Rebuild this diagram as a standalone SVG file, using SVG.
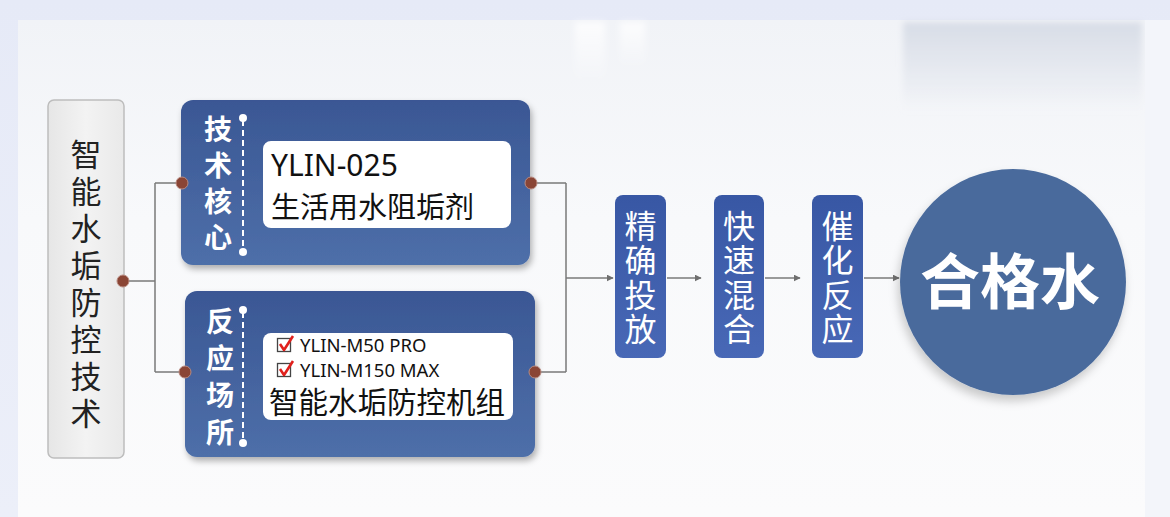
<svg xmlns="http://www.w3.org/2000/svg" width="1170" height="517" viewBox="0 0 1170 517">
<defs>
<linearGradient id="bgTop" x1="0" y1="0" x2="0" y2="1"><stop offset="0" stop-color="#e6eaf7"/><stop offset="1" stop-color="#eceff9"/></linearGradient>
<linearGradient id="panel" x1="0" y1="0" x2="0" y2="1"><stop offset="0" stop-color="#f1f3f7"/><stop offset="0.4" stop-color="#f8f9fb"/><stop offset="1" stop-color="#fbfbfc"/></linearGradient>
<linearGradient id="haze" x1="0" y1="0" x2="0" y2="1"><stop offset="0" stop-color="#d8dde7"/><stop offset="1" stop-color="#d8dde7" stop-opacity="0"/></linearGradient>
<linearGradient id="hazeW" x1="0" y1="0" x2="0" y2="1"><stop offset="0" stop-color="#ffffff" stop-opacity="0.8"/><stop offset="1" stop-color="#ffffff" stop-opacity="0"/></linearGradient>
<linearGradient id="grayBox" x1="0" y1="0" x2="1" y2="0"><stop offset="0" stop-color="#e6e6e6"/><stop offset="0.5" stop-color="#f3f3f3"/><stop offset="1" stop-color="#e9e9e9"/></linearGradient>
<linearGradient id="navy" x1="0" y1="0" x2="0" y2="1"><stop offset="0" stop-color="#3a5794"/><stop offset="1" stop-color="#4e6fa9"/></linearGradient>
<linearGradient id="step" x1="0" y1="0" x2="0" y2="1"><stop offset="0" stop-color="#3857a4"/><stop offset="1" stop-color="#4868b6"/></linearGradient>
<filter id="blur" x="-20%" y="-20%" width="140%" height="140%"><feGaussianBlur stdDeviation="3"/></filter>
<filter id="sh" x="-10%" y="-10%" width="125%" height="130%"><feDropShadow dx="2" dy="4" stdDeviation="3" flood-color="#000" flood-opacity="0.3"/></filter>
<filter id="shc" x="-10%" y="-10%" width="125%" height="130%"><feDropShadow dx="-2" dy="6" stdDeviation="5" flood-color="#000" flood-opacity="0.2"/></filter>
<marker id="arr" viewBox="0 0 10 10" refX="9" refY="5" markerWidth="7" markerHeight="7" markerUnits="userSpaceOnUse" orient="auto"><path d="M0,0 L10,5 L0,10 z" fill="#6f6f6f"/></marker>
<style>
.cn{font-family:"Noto Sans CJK SC","Noto Sans",sans-serif}
.lat{font-family:"Noto Sans","Noto Sans CJK SC",sans-serif}
.vt{writing-mode:vertical-rl;text-anchor:start}
.lbl{fill:#fff;font-weight:bold;font-size:28px}
.stp{fill:#fff;font-size:32px;letter-spacing:2.3px}
.con{fill:none;stroke:#7a7a7a;stroke-width:1.5}
.dot{fill:#8a4535;stroke:#b88a80;stroke-width:1}
.dash{stroke:#fff;stroke-width:2;stroke-dasharray:6 4}
</style>
</defs>
<rect x="0" y="0" width="1170" height="517" fill="url(#bgTop)"/>
<rect x="18" y="20" width="1127" height="497" fill="url(#panel)"/>
<g filter="url(#blur)">
<rect x="903" y="22" width="239" height="90" fill="url(#haze)"/>
<rect x="575" y="22" width="30" height="60" fill="url(#hazeW)"/>
<rect x="620" y="22" width="25" height="45" fill="url(#hazeW)"/>
</g>
<rect x="1145" y="20" width="25" height="497" fill="#f3f5fa"/>

<g id="connectors">
<path class="con" d="M123,281 H155 M155,183 V372 M155,183 H182 M155,372 H185"/>
<path class="con" d="M531,183 H566 M566,183 V372 M535,372 H566"/>
<path class="con" d="M566,278 H613" marker-end="url(#arr)"/>
<path class="con" d="M667,278 H701" marker-end="url(#arr)"/>
<path class="con" d="M765,278 H800" marker-end="url(#arr)"/>
<path class="con" d="M864,278 H899" marker-end="url(#arr)"/>
</g>

<g id="node-left">
<rect x="48" y="100" width="76" height="358" rx="6" fill="url(#grayBox)" stroke="#bdbdbd" stroke-width="1.5"/>
<text class="cn vt" x="86" y="138.5" font-size="31" fill="#222" letter-spacing="6">智能水垢防控技术</text>
<circle class="dot" cx="123" cy="281" r="6"/>
</g>

<g id="node-core">
<rect x="181" y="100" width="349" height="165" rx="12" fill="url(#navy)" filter="url(#sh)"/>
<line class="dash" x1="243" y1="120" x2="243" y2="250"/>
<circle cx="243" cy="118" r="4" fill="#fff"/>
<circle cx="243" cy="252" r="4" fill="#fff"/>
<text class="cn vt lbl" x="218" y="115" letter-spacing="8">技术核心</text>
<rect x="263" y="141" width="248" height="87" rx="8" fill="#fff"/>
<text class="lat" x="271" y="176" font-size="30" fill="#111">YLIN-025</text>
<text class="cn" x="271" y="218" font-size="29" fill="#111">生活用水阻垢剂</text>
<circle class="dot" cx="182" cy="183" r="6"/>
<circle class="dot" cx="531" cy="183" r="6"/>
</g>

<g id="node-site">
<rect x="185" y="291" width="350" height="166" rx="12" fill="url(#navy)" filter="url(#sh)"/>
<line class="dash" x1="243" y1="312" x2="243" y2="441"/>
<circle cx="243" cy="310" r="4" fill="#fff"/>
<circle cx="243" cy="443" r="4" fill="#fff"/>
<text class="cn vt lbl" x="220" y="307" letter-spacing="9">反应场所</text>
<rect x="263" y="333" width="250" height="87" rx="8" fill="#fff"/>
<g>
<rect x="277.5" y="338.5" width="13" height="13" fill="#fff" stroke="#444" stroke-width="1.3"/>
<path d="M280,344 L284,350 L293,336" fill="none" stroke="#e0201c" stroke-width="2.6" stroke-linejoin="round"/>
<rect x="277.5" y="363.5" width="13" height="13" fill="#fff" stroke="#444" stroke-width="1.3"/>
<path d="M280,369 L284,375 L293,361" fill="none" stroke="#e0201c" stroke-width="2.6" stroke-linejoin="round"/>
</g>
<text class="lat" x="300" y="352" font-size="18.5" fill="#111">YLIN-M50 PRO</text>
<text class="lat" x="300" y="377" font-size="18.5" fill="#111">YLIN-M150 MAX</text>
<text class="cn" x="269" y="413" font-size="29.5" fill="#111">智能水垢防控机组</text>
<circle class="dot" cx="185" cy="372" r="6"/>
<circle class="dot" cx="535" cy="372" r="6"/>
</g>

<g id="node-step1">
<rect x="615" y="195" width="51" height="163" rx="8" fill="url(#step)"/>
<text class="cn vt stp" x="640.5" y="210">精确投放</text>
</g>
<g id="node-step2">
<rect x="714" y="195" width="50" height="163" rx="8" fill="url(#step)"/>
<text class="cn vt stp" x="739" y="210">快速混合</text>
</g>
<g id="node-step3">
<rect x="812" y="195" width="51" height="163" rx="8" fill="url(#step)"/>
<text class="cn vt stp" x="837.5" y="210">催化反应</text>
</g>

<g id="node-result">
<circle cx="1013" cy="282" r="113" fill="#4a6b9c" filter="url(#shc)"/>
<text class="cn" x="1010" y="304" font-size="60" font-weight="bold" fill="#fff" text-anchor="middle">合格水</text>
</g>
</svg>
